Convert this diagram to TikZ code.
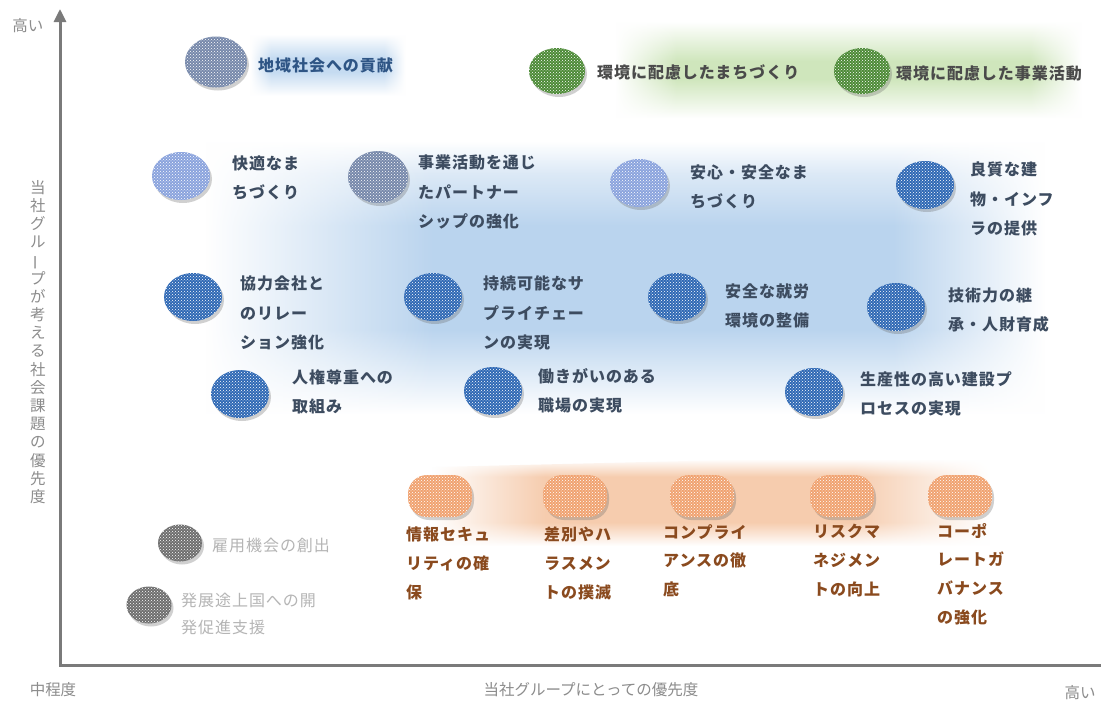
\documentclass[tikz,border=0pt]{standalone}
\usepackage{fontspec}
\newfontfamily\jp{Noto Sans CJK JP}[LetterSpace=6]
\newfontfamily\jpax{Noto Sans CJK JP}
\usetikzlibrary{shapes.geometric,patterns,shadows,fadings,arrows.meta}

\definecolor{cBlue}{HTML}{2E68B4}
\definecolor{cLav}{HTML}{8AA3DD}
\definecolor{cSlate}{HTML}{7688AA}
\definecolor{cGreen}{HTML}{4C8A36}
\definecolor{cOrange}{HTML}{F0A270}
\definecolor{cGray}{HTML}{6E6E6E}
\definecolor{tBlue}{HTML}{3D4C60}
\definecolor{tChiiki}{HTML}{2E5585}
\definecolor{tGreen}{HTML}{4A4A4A}
\definecolor{tBrown}{HTML}{8A4A1E}
\definecolor{tGray}{HTML}{B5B5B5}
\definecolor{tAxis}{HTML}{8C8C8C}
\definecolor{gBlue}{HTML}{BAD4EE}
\definecolor{gBlueL}{HTML}{DCE9F6}
\definecolor{gBlueTop}{HTML}{C5DBF1}
\definecolor{gGreen}{HTML}{CFE6BC}
\definecolor{gOrange}{HTML}{F6CCAE}
\definecolor{cAxis}{HTML}{7A7A7A}

% fadings: black = transparent, white = opaque; generous transparent margins
\pgfdeclarehorizontalshading{hplat}{100bp}{color(0bp)=(black); color(28bp)=(black); color(40bp)=(white); color(64bp)=(white); color(72bp)=(black); color(100bp)=(black)}
\pgfdeclarefading{hplatfade}{\pgfuseshading{hplat}}
\pgfdeclarehorizontalshading{hgrn}{100bp}{color(0bp)=(black); color(28bp)=(black); color(34bp)=(white); color(68bp)=(white); color(73bp)=(black); color(100bp)=(black)}
\pgfdeclarefading{hgrnfade}{\pgfuseshading{hgrn}}
\pgfdeclarehorizontalshading{horg}{100bp}{color(0bp)=(black); color(28bp)=(black); color(37bp)=(white); color(61bp)=(white); color(72bp)=(black); color(100bp)=(black)}
\pgfdeclarefading{horgfade}{\pgfuseshading{horg}}
\pgfdeclarehorizontalshading{htop}{100bp}{color(0bp)=(black); color(28bp)=(black); color(34bp)=(white); color(66bp)=(white); color(72bp)=(black); color(100bp)=(black)}
\pgfdeclarefading{htopfade}{\pgfuseshading{htop}}

\pgfdeclareverticalshading{vblue}{100bp}{color(0bp)=(white); color(29bp)=(white); color(42bp)=(gBlue); color(58bp)=(gBlue); color(66bp)=(gBlueL); color(71bp)=(white); color(100bp)=(white)}
\pgfdeclareverticalshading{vgrn}{100bp}{color(0bp)=(white); color(28bp)=(white); color(46bp)=(gGreen); color(54bp)=(gGreen); color(72bp)=(white); color(100bp)=(white)}
\pgfdeclareverticalshading{vtop}{100bp}{color(0bp)=(white); color(28bp)=(white); color(45bp)=(gBlueTop); color(55bp)=(gBlueTop); color(72bp)=(white); color(100bp)=(white)}
\pgfdeclareverticalshading{vorg}{100bp}{color(0bp)=(white); color(28bp)=(white); color(40bp)=(gOrange); color(63bp)=(gOrange); color(72bp)=(white); color(100bp)=(white)}

\tikzset{
  blob/.style={ellipse, inner sep=0pt, minimum width=58pt, minimum height=48pt, fill=#1,
    drop shadow={opacity=0.3, shadow xshift=2pt, shadow yshift=-3pt, fill=black!60},
    postaction={pattern=crosshatch dots, pattern color=white}},
  obox/.style={rectangle, rounded corners=19pt, inner sep=0pt, minimum width=64pt, minimum height=42pt, fill=cOrange,
    drop shadow={opacity=0.3, shadow xshift=2pt, shadow yshift=-3pt, fill=black!60},
    postaction={pattern=crosshatch dots, pattern color=white}},
  lbl/.style={anchor=west, align=left, inner sep=0pt, text=tBlue, font=\jp\bfseries\fontsize{16}{29.5}\selectfont},
  olbl/.style={anchor=north west, align=left, inner sep=0pt, text=tBrown, font=\jp\bfseries\fontsize{16}{28.7}\selectfont},
  axlbl/.style={inner sep=0pt, text=tAxis, font=\jpax\fontsize{15.5}{18.2}\selectfont},
  axisline/.style={line width=3pt, draw=cAxis}
}

\begin{document}
\begin{tikzpicture}[x=1pt,y=-1pt]
\useasboundingbox (0,0) rectangle (1101,704);
\fill[white] (0,0) rectangle (1101,704);

% glows
\shade[shading=vblue, path fading=hplatfade] (150,115) rectangle (1100,440);
\shade[shading=vtop, path fading=htopfade] (240,30) rectangle (415,100);
\shade[shading=vgrn, path fading=hgrnfade] (585,15) rectangle (1101,125);
\shade[shading=vorg, path fading=horgfade] (395,468) -- (1027,453) -- (1027,552) -- (395,552) -- cycle;

% axes
\coordinate (O) at (60,665);
\coordinate (Ytop) at (60,9);
\coordinate (Xend) at (1101,665);
\draw[axisline, -{Triangle[length=13pt,width=12pt]}] (Xend) -- (O) -- (Ytop);
\node[axlbl] (yhigh) at (28,26) {高い};
\node[axlbl] (xmid) at (53,690) {中程度};
\node[axlbl] (xlabel) at (591,690) {当社グループにとっての優先度};
\node[axlbl] (xhigh) at (1080,693) {高い};
\node[axlbl, align=center] (ylabel) at (38,342) {当\\社\\グ\\ル\\\rotatebox[origin=c]{90}{ー}\\プ\\が\\考\\え\\る\\社\\会\\課\\題\\の\\優\\先\\度};

% top row
\node[blob=cSlate, minimum width=62pt, minimum height=51pt] (b1) at (216,62) {};
\node[lbl, text=tChiiki] (tb1) at (258,65) {地域社会への貢献};
\node[blob=cGreen, minimum width=56pt, minimum height=46pt] (g1) at (557,71) {};
\node[lbl, text=tGreen] (tg1) at (597,72) {環境に配慮したまちづくり};
\node[blob=cGreen, minimum width=56pt, minimum height=46pt] (g2) at (862,71) {};
\node[lbl, text=tGreen] (tg2) at (896,73) {環境に配慮した事業活動};

% row 2
\node[blob=cLav] (k1) at (181,176) {};
\node[lbl] (tk1) at (232,178) {快適なま\\ちづくり};
\node[blob=cSlate, minimum width=60pt, minimum height=52pt] (k2) at (378,177) {};
\node[lbl] (tk2) at (418,192) {事業活動を通じ\\たパートナー\\シップの強化};
\node[blob=cLav] (k3) at (639,183) {};
\node[lbl] (tk3) at (690,187) {安心・安全なま\\ちづくり};
\node[blob=cBlue] (k4) at (925,185) {};
\node[lbl] (tk4) at (970,199) {良質な建\\物・インフ\\ラの提供};

% row 3
\node[blob=cBlue] (m1) at (193,297) {};
\node[lbl] (tm1) at (240,313) {協力会社と\\のリレー\\ション強化};
\node[blob=cBlue] (m2) at (433,297) {};
\node[lbl] (tm2) at (483,313) {持続可能なサ\\プライチェー\\ンの実現};
\node[blob=cBlue] (m3) at (677,297) {};
\node[lbl] (tm3) at (725,306) {安全な就労\\環境の整備};
\node[blob=cBlue] (m4) at (896,307) {};
\node[lbl] (tm4) at (948,310) {技術力の継\\承・人財育成};

% row 4
\node[blob=cBlue] (n1) at (240,394) {};
\node[lbl] (tn1) at (292,392) {人権尊重への\\取組み};
\node[blob=cBlue] (n2) at (493,391) {};
\node[lbl] (tn2) at (538,391) {働きがいのある\\職場の実現};
\node[blob=cBlue] (n3) at (814,392) {};
\node[lbl] (tn3) at (860,394) {生産性の高い建設プ\\ロセスの実現};

% orange row
\node[obox] (o1) at (440,496) {};
\node[olbl] (to1) at (406,527) {情報セキュ\\リティの確\\保};
\node[obox] (o2) at (575,496) {};
\node[olbl] (to2) at (544,527) {差別やハ\\ラスメン\\トの撲滅};
\node[obox] (o3) at (702,496) {};
\node[olbl] (to3) at (663,524) {コンプライ\\アンスの徹\\底};
\node[obox] (o4) at (842,496) {};
\node[olbl] (to4) at (813,524) {リスクマ\\ネジメン\\トの向上};
\node[obox] (o5) at (960,496) {};
\node[olbl] (to5) at (937,523) {コーポ\\レートガ\\バナンス\\の強化};

% gray
\node[blob=cGray, minimum width=44pt, minimum height=37pt] (y1) at (180,543) {};
\node[lbl, text=tGray, font=\jp\fontsize{16}{27.5}\selectfont] (ty1) at (212,545) {雇用機会の創出};
\node[blob=cGray, minimum width=45pt, minimum height=37pt] (y2) at (149,605) {};
\node[lbl, text=tGray, font=\jp\fontsize{16}{27.5}\selectfont] (ty2) at (181,614) {発展途上国への開\\発促進支援};
\end{tikzpicture}
\end{document}
